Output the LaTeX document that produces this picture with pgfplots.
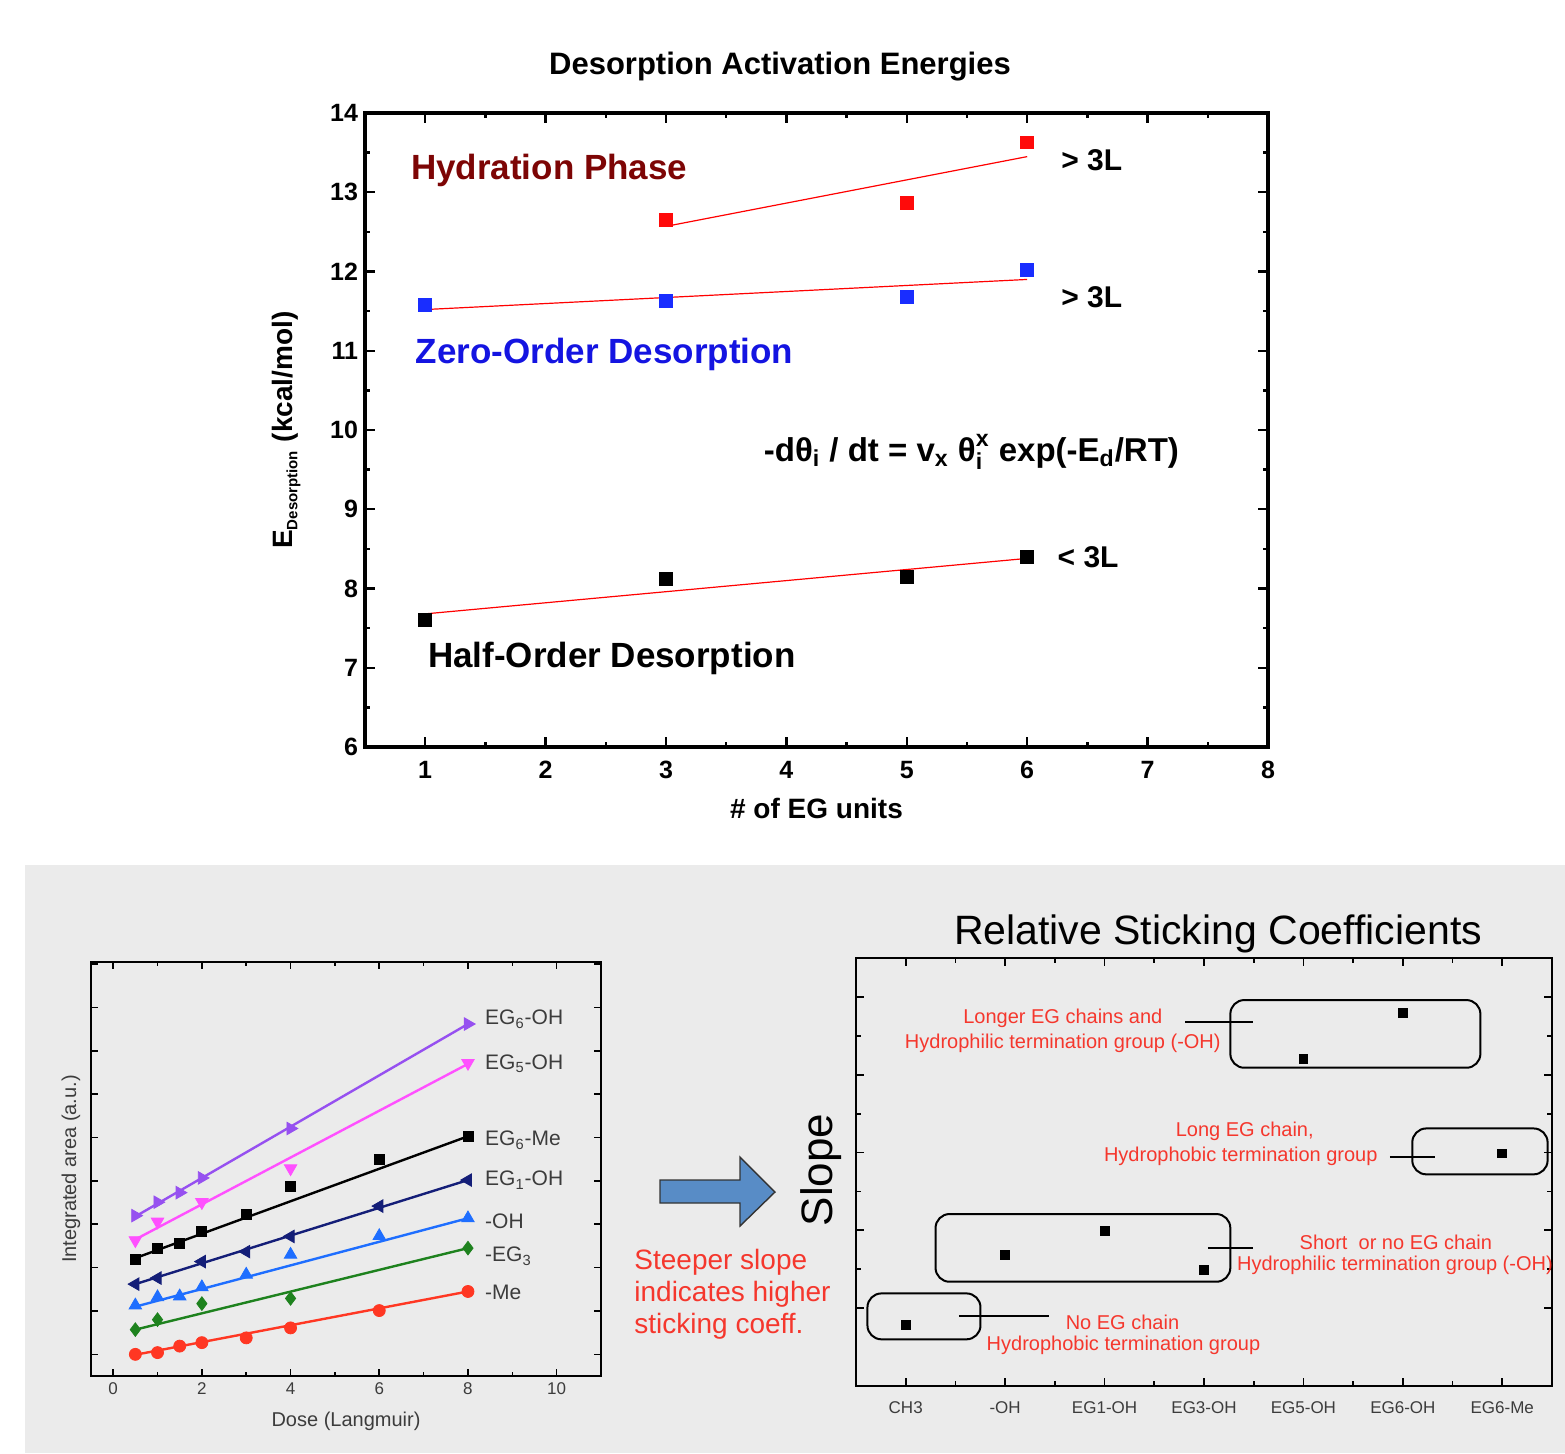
\documentclass[border=0pt]{standalone}
\usepackage{amsmath}
\usepackage{fontspec}
\setmainfont{Liberation Sans}
\usepackage{pgfplots}
\pgfplotsset{compat=1.18}
\definecolor{bggray}{RGB}{235,235,235}
\definecolor{hydr}{RGB}{125,5,5}
\definecolor{zblue}{RGB}{20,20,225}
\definecolor{mred}{RGB}{255,10,10}
\definecolor{mblue}{RGB}{25,45,255}
\definecolor{cpurple}{RGB}{150,80,240}
\definecolor{cmagenta}{RGB}{255,80,255}
\definecolor{cnavy}{RGB}{20,30,120}
\definecolor{cblue}{RGB}{30,110,255}
\definecolor{cgreen}{RGB}{30,130,30}
\definecolor{cred}{RGB}{255,55,35}
\definecolor{annred}{RGB}{245,55,45}
\definecolor{arrowblue}{RGB}{88,140,198}
\definecolor{labgray}{RGB}{60,60,60}
\begin{document}
\begin{tikzpicture}
\path[use as bounding box] (0pt,0pt) rectangle (782.5pt,-726.5pt);
\fill[bggray] (12.5pt,-432.5pt) rectangle (782.5pt,-726.5pt);
% title top
\node[font=\bfseries\fontsize{15.5}{18}\selectfont] at (390pt,-33.5pt) {Desorption Activation Energies};
% ---------------- top axis ----------------
\begin{axis}[
 at={(182.5pt,-373.5pt)}, anchor=south west,
 scale only axis, width=451.5pt, height=317pt,
 xmin=0.5, xmax=8, ymin=6, ymax=14,
 xtick={1,...,8}, ytick={6,...,14},
 minor x tick num=1, minor y tick num=1,
 axis line style={line width=1.6pt},
 major tick length=5pt, minor tick length=2.5pt,
 every tick/.style={line width=1.2pt, black},
 tick label style={font=\bfseries\fontsize{12.5}{14}\selectfont},
 xticklabel style={yshift=-3.5pt},
 /pgf/number format/assume math mode=true,
 xlabel={\# of EG units},
 ylabel={E\textsubscript{\fontsize{7.5}{8}\selectfont Desorption} (kcal/mol)},
 label style={font=\bfseries\fontsize{14}{16}\selectfont},
 xlabel style={yshift=-3pt},
 ylabel style={yshift=8pt},
 clip=false,
]
\addplot[only marks, mark=square*, mark size=3.2pt, color=mred] coordinates {(3,12.65) (5,12.87) (6,13.63)};
\addplot[only marks, mark=square*, mark size=3.2pt, color=mblue] coordinates {(1,11.58) (3,11.63) (5,11.68) (6,12.02)};
\addplot[only marks, mark=square*, mark size=3.2pt, color=black] coordinates {(1,7.60) (3,8.12) (5,8.15) (6,8.40)};
\addplot[red, line width=0.6pt, no marks] coordinates {(3,12.57) (6,13.45)};
\addplot[red, line width=0.6pt, no marks] coordinates {(1,11.52) (6,11.90)};
\addplot[red, line width=0.6pt, no marks] coordinates {(1,7.68) (6,8.38)};
\node[anchor=west, text=hydr, font=\bfseries\fontsize{17.5}{20}\selectfont, inner sep=0pt] at (axis cs:0.88,13.28) {Hydration Phase};
\node[anchor=west, text=zblue, font=\bfseries\fontsize{17.5}{20}\selectfont, inner sep=0pt] at (axis cs:0.92,10.95) {Zero-Order Desorption};
\node[anchor=west, font=\bfseries\fontsize{17.5}{20}\selectfont, inner sep=0pt] at (axis cs:1.02,7.12) {Half-Order Desorption};
\node[anchor=west, font=\bfseries\fontsize{15}{17}\selectfont, inner sep=0pt] at (axis cs:6.28,13.41) {> 3L};
\node[anchor=west, font=\bfseries\fontsize{15}{17}\selectfont, inner sep=0pt] at (axis cs:6.28,11.67) {> 3L};
\node[anchor=west, font=\bfseries\fontsize{15}{17}\selectfont, inner sep=0pt] at (axis cs:6.25,8.40) {< 3L};
\node[anchor=west, font=\bfseries\fontsize{16.5}{18}\selectfont, inner sep=0pt] at (axis cs:3.81,9.72)
 {-dθ\textsubscript{i} / dt = v\textsubscript{x} $\text{\bfseries θ}_{\text{\bfseries i}}^{\text{\bfseries x}}$ exp(-E\textsubscript{d}/RT)};
\end{axis}
% ---------------- bottom-left axis ----------------
\begin{axis}[
 at={(45.5pt,-688pt)}, anchor=south west,
 scale only axis, width=255pt, height=207pt,
 xmin=-0.5, xmax=11, ymin=-0.5, ymax=9.05,
 xtick={0,2,...,10}, minor x tick num=1,
 ytick={0,...,9}, yticklabels={},
 axis line style={line width=1pt},
 major tick length=3.5pt, minor tick length=2pt,
 every tick/.style={line width=0.8pt, black},
 tick label style={font=\fontsize{8.5}{10}\selectfont, text=labgray},
 /pgf/number format/assume math mode=true,
 xlabel={Dose (Langmuir)},
 ylabel={Integrated area (a.u.)},
 label style={font=\fontsize{10}{12}\selectfont, text=labgray},
 xlabel style={yshift=-1.5pt},
 ylabel style={yshift=-5pt},
 clip=false,
]
% EG6-OH
\addplot[cpurple, line width=1.2pt, no marks] coordinates {(0.5,3.18) (8,7.62)};
\addplot[only marks, cpurple, mark=triangle*, mark size=3.6pt, mark options={rotate=-90}] coordinates {(0.5,3.20) (1,3.51) (1.5,3.73) (2,4.07) (4,5.21) (8,7.62)};
% EG5-OH
\addplot[cmagenta, line width=1.2pt, no marks] coordinates {(0.5,2.65) (8,6.70)};
\addplot[only marks, cmagenta, mark=triangle*, mark size=3.6pt, mark options={rotate=180}] coordinates {(0.5,2.63) (1,3.06) (2,3.51) (4,4.29) (8,6.72)};
% EG6-Me
\addplot[black, line width=1.2pt, no marks] coordinates {(0.5,2.22) (8,5.03)};
\addplot[only marks, black, mark=square*, mark size=2.5pt] coordinates {(0.5,2.20) (1,2.45) (1.5,2.57) (2,2.83) (3,3.23) (4,3.87) (6,4.49) (8,5.03)};
% EG1-OH
\addplot[cnavy, line width=1.2pt, no marks] coordinates {(0.5,1.62) (8,4.02)};
\addplot[only marks, cnavy, mark=triangle*, mark size=3.6pt, mark options={rotate=90}] coordinates {(0.5,1.62) (1,1.76) (2,2.14) (3,2.37) (4,2.72) (6,3.42) (8,4.02)};
% -OH
\addplot[cblue, line width=1.2pt, no marks] coordinates {(0.5,1.10) (8,3.14)};
\addplot[only marks, cblue, mark=triangle*, mark size=3.6pt] coordinates {(0.5,1.13) (1,1.32) (1.5,1.34) (2,1.55) (3,1.84) (4,2.30) (6,2.73) (8,3.14)};
% -EG3
\addplot[cgreen, line width=1.2pt, no marks] coordinates {(0.5,0.57) (8,2.45)};
\addplot[only marks, cgreen, mark=diamond*, mark size=3.4pt] coordinates {(0.5,0.57) (1,0.80) (2,1.17) (4,1.29) (8,2.45)};
% -Me
\addplot[cred, line width=1.2pt, no marks] coordinates {(0.5,-0.01) (8,1.45)};
\addplot[only marks, cred, mark=*, mark size=3pt] coordinates {(0.5,0) (1,0.04) (1.5,0.19) (2,0.27) (3,0.38) (4,0.61) (6,1.01) (8,1.45)};
\begin{scope}[every node/.style={anchor=west, font=\fontsize{10.5}{12}\selectfont, text=labgray, inner sep=0pt}]
\node at (axis cs:8.38,7.73) {EG\textsubscript{6}-OH};
\node at (axis cs:8.38,6.70) {EG\textsubscript{5}-OH};
\node at (axis cs:8.38,4.94) {EG\textsubscript{6}-Me};
\node at (axis cs:8.38,4.02) {EG\textsubscript{1}-OH};
\node at (axis cs:8.38,3.06) {-OH};
\node at (axis cs:8.38,2.26) {-EG\textsubscript{3}};
\node at (axis cs:8.38,1.42) {-Me};
\end{scope}
\end{axis}
% arrow
\filldraw[fill=arrowblue, draw=black!80, line width=0.7pt]
 (330pt,-590pt) -- (370pt,-590pt) -- (370pt,-578.5pt) -- (387.5pt,-596pt) -- (370pt,-613pt) -- (370pt,-601.5pt) -- (330pt,-601.5pt) -- cycle;
\node[anchor=north west, align=left, text=annred, font=\fontsize{14}{16}\selectfont, inner sep=0pt] at (317pt,-624.5pt)
 {Steeper slope\\indicates higher\\sticking coeff.};
\node[rotate=90, font=\fontsize{22}{24}\selectfont] at (410.5pt,-585pt) {Slope};
% ---------------- bottom-right axis ----------------
\node[font=\fontsize{20.5}{23}\selectfont] at (609pt,-467pt) {Relative Sticking Coefficients};
\begin{axis}[
 at={(428pt,-693pt)}, anchor=south west,
 scale only axis, width=348pt, height=214pt,
 xmin=-0.5, xmax=6.5, ymin=0, ymax=5.5,
 xtick={0,...,6},
 xticklabels={CH3,-OH,EG1-OH,EG3-OH,EG5-OH,EG6-OH,EG6-Me},
 minor x tick num=1,
 ytick={1,...,5}, yticklabels={}, minor y tick num=1,
 axis line style={line width=1.2pt},
 major tick length=4pt, minor tick length=2.5pt,
 every tick/.style={line width=0.9pt, black},
 tick label style={font=\fontsize{8.5}{10}\selectfont, text=labgray},
 xticklabel style={yshift=-4.5pt},
 clip=false,
]
\addplot[only marks, black, mark=square*, mark size=2.2pt] coordinates {(0,0.79) (1,1.69) (2,1.99) (3,1.49) (4,4.20) (5,4.79) (6,2.99)};
\draw[line width=1pt, rounded corners=7pt] (axis cs:3.265,4.96) rectangle (axis cs:5.78,4.09);
\draw[line width=1pt, rounded corners=7pt] (axis cs:5.095,3.31) rectangle (axis cs:6.456,2.72);
\draw[line width=1pt, rounded corners=7pt] (axis cs:0.30,2.21) rectangle (axis cs:3.265,1.34);
\draw[line width=1pt, rounded corners=7pt] (axis cs:-0.385,1.19) rectangle (axis cs:0.752,0.60);
\draw[line width=1pt] (axis cs:2.81,4.68) -- (axis cs:3.49,4.68);
\draw[line width=1pt] (axis cs:4.87,2.94) -- (axis cs:5.32,2.94);
\draw[line width=1pt] (axis cs:3.04,1.77) -- (axis cs:3.49,1.77);
\draw[line width=1pt] (axis cs:0.534,0.90) -- (axis cs:1.44,0.90);
\begin{scope}[every node/.style={text=annred, font=\fontsize{10}{12}\selectfont, inner sep=0pt}]
\node at (axis cs:1.58,4.73) {Longer EG chains and};
\node at (axis cs:1.58,4.41) {Hydrophilic termination group (-OH)};
\node at (axis cs:3.41,3.27) {Long EG chain,};
\node at (axis cs:3.37,2.95) {Hydrophobic termination group};
\node at (axis cs:4.93,1.85) {Short\ \ or no EG chain};
\node at (axis cs:4.92,1.55) {Hydrophilic termination group (-OH)};
\node at (axis cs:2.18,0.82) {No EG chain};
\node at (axis cs:2.19,0.52) {Hydrophobic termination group};
\end{scope}
\end{axis}
\end{tikzpicture}
\end{document}
